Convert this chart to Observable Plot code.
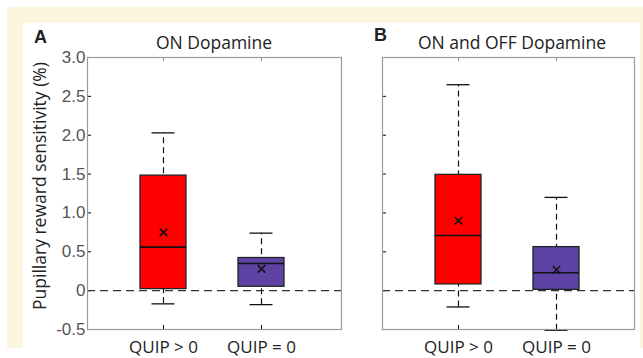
<!DOCTYPE html>
<html>
<head>
<meta charset="utf-8">
<script src="https://cdn.jsdelivr.net/npm/d3@7"></script>
<script src="https://cdn.jsdelivr.net/npm/@observablehq/plot@0.6"></script>
<style>
  html, body { margin: 0; padding: 0; background: #fff; }
  #wrap { position: relative; width: 643px; height: 358px; overflow: hidden; background: #fff; font-family: "Open Sans", "Noto Sans", sans-serif; }
  .abs { position: absolute; }
  .title { font-size: 17.5px; color: #222; line-height: 1; white-space: nowrap; transform: translateX(-50%); }
  .letter { font-family: "Liberation Sans", Arial, sans-serif; font-weight: bold; font-size: 18px; color: #222; line-height: 1; }
  .ylab { font-size: 17.5px; color: #222; white-space: nowrap; line-height: 1; transform: translate(-50%, -50%) rotate(-90deg); }
  svg [aria-label^="y-axis"] text { font-family: "Liberation Sans", Arial, sans-serif; font-size: 17px; fill: #555; }
  svg [aria-label^="x-axis"] text { font-family: "Open Sans", sans-serif; font-size: 17px; fill: #222; }
</style>
</head>
<body>
<div id="wrap">
  <div class="abs" style="left:7px;top:7px;width:636px;height:341px;background:#fdf6df"></div>
  <div class="abs" style="left:23px;top:23px;width:617px;height:340px;background:#fff"></div>
  <div class="abs" id="pA" style="left:0;top:0"></div>
  <div class="abs" id="pB" style="left:350px;top:0"></div>
  <div class="abs letter" style="left:34px;top:28px">A</div>
  <div class="abs letter" style="left:374px;top:26px">B</div>
  <div class="abs title" id="tA" style="left:214px;top:34px"></div>
  <div class="abs title" id="tB" style="left:512px;top:34px"></div>
  <div class="abs ylab" style="left:40px;top:186px">Pupillary reward sensitivity (%)</div>
</div>
<script>
// ---- data ----
const panelTitles = ["ON Dopamine", "ON and OFF Dopamine"];
const categories = ["QUIP > 0", "QUIP = 0"];
const boxColors = ["#ff0000", "#5e43a5"];
const panelOf = ["A", "A", "B", "B"];
const groupOf = ["QUIP > 0", "QUIP = 0", "QUIP > 0", "QUIP = 0"];
const lowerWhisker = [-0.17, -0.18, -0.21, -0.51];
const q1 = [0.02, 0.05, 0.08, 0.01];
const median = [0.56, 0.35, 0.71, 0.23];
const q3 = [1.48, 0.42, 1.49, 0.56];
const upperWhisker = [2.03, 0.74, 2.65, 1.20];
const meanValue = [0.75, 0.28, 0.90, 0.27];
const yTicks = [-0.5, 0, 0.5, 1, 1.5, 2, 2.5, 3];
const yDomain = [-0.5, 3];
const referenceLine = [0];

document.getElementById("tA").textContent = panelTitles[0];
document.getElementById("tB").textContent = panelTitles[1];

const rows = panelOf.map((p, i) => ({
  panel: p, category: groupOf[i], lo: lowerWhisker[i], q1: q1[i],
  med: median[i], q3: q3[i], hi: upperWhisker[i], mean: meanValue[i]
}));

const H = 358, MT = 57, MB = 29;

function panel(id, cfg) {
  const data = rows.filter(d => d.panel === id);
  return Plot.plot({
    width: cfg.width, height: H,
    marginLeft: cfg.marginLeft, marginRight: cfg.marginRight,
    marginTop: MT, marginBottom: MB,
    style: { background: "transparent", overflow: "visible" },
    x: {
      type: "band", domain: categories, paddingInner: 0.535, paddingOuter: 0.5,
      insetLeft: cfg.insetLeft, insetRight: cfg.insetRight,
      tickSize: -4, tickPadding: 15, label: null
    },
    y: {
      domain: yDomain, ticks: yTicks, tickSize: -4, tickPadding: 6, label: null,
      tickFormat: cfg.showY ? (d => d === 0 ? "0" : d.toFixed(1)) : (() => "")
    },
    color: { domain: categories, range: boxColors },
    marks: [
      // inward top ticks at the category positions (MATLAB box style)
      Plot.ruleX(categories, { x: d => d, insetBottom: H - MT - MB - 4, stroke: "#9a9a9a" }),
      Plot.ruleY(referenceLine, { stroke: "#333", strokeWidth: 1.2, strokeDasharray: "8,5" }),
      Plot.ruleX(data, { x: "category", y1: "lo", y2: "hi", stroke: "#111", strokeWidth: 1.2, strokeDasharray: "6,4" }),
      Plot.tickY(data, { x: "category", y: "lo", stroke: "#111", strokeWidth: 1.3, insetLeft: 11.5, insetRight: 11.5 }),
      Plot.tickY(data, { x: "category", y: "hi", stroke: "#111", strokeWidth: 1.3, insetLeft: 11.5, insetRight: 11.5 }),
      Plot.barY(data, { x: "category", y1: "q1", y2: "q3", fill: "category", stroke: "#222", strokeWidth: 1.3 }),
      Plot.tickY(data, { x: "category", y: "med", stroke: "#111", strokeWidth: 1.6 }),
      Plot.dot(data, { x: "category", y: "mean", symbol: "times", r: 3.5, stroke: "#111", strokeWidth: 1.5 }),
      Plot.frame({ stroke: "#9a9a9a", strokeWidth: 1.2 })
    ]
  });
}

document.getElementById("pA").append(panel("A", { width: 350, marginLeft: 87, marginRight: 9, insetLeft: 2.5, insetRight: 7.5, showY: true }));
document.getElementById("pB").append(panel("B", { width: 293, marginLeft: 32, marginRight: 9, insetLeft: 2.5, insetRight: 5.5, showY: false }));
</script>
</body>
</html>
